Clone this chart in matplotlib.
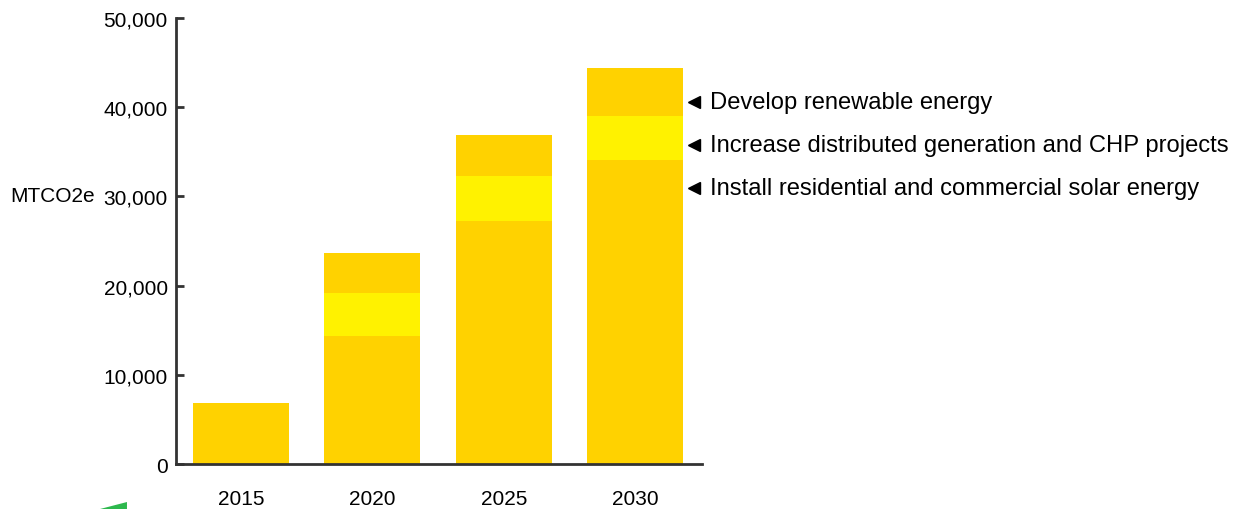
import numpy as np
import matplotlib.pyplot as plt
from matplotlib.patches import Polygon
from matplotlib.transforms import offset_copy

# -----------------------------
# Data (MTCO2e reductions)
# -----------------------------
years = ["2015", "2020", "2025", "2030"]
solar = [6800, 14300, 27300, 34100]      # residential / commercial solar
chp = [0, 4900, 5000, 4900]              # distributed generation and CHP
renewable = [0, 4500, 4600, 5400]        # develop renewable energy

labels = [
    "Develop renewable energy",
    "Increase distributed generation and CHP projects",
    "Install residential and commercial solar energy",
]
label_y = [40600, 35800, 31000]

orange = "#FFD200"
yellow = "#FFF200"
axis_col = "#333333"

plt.rcParams["font.family"] = ["Liberation Sans", "DejaVu Sans"]

fig = plt.figure(figsize=(12.46, 5.10), dpi=100)
ax = fig.add_axes([0.1413, 0.0882, 0.4221, 0.8745])

x = np.arange(len(years))
width = 0.73
base2 = np.array(solar) + np.array(chp)

ax.bar(x, solar, width, color=orange, linewidth=0)
ax.bar(x, chp, width, bottom=solar, color=yellow, linewidth=0)
ax.bar(x, renewable, width, bottom=base2, color=orange, linewidth=0)

ax.set_xlim(-0.495, 3.51)
ax.set_ylim(0, 50000)
ax.set_yticks(np.arange(0, 50001, 10000))
ax.set_yticklabels([f"{v:,}" for v in range(0, 50001, 10000)], fontsize=15)
ax.set_xticks(x)
ax.set_xticklabels(years, fontsize=15)
ax.tick_params(axis="x", length=0, pad=18)
ax.tick_params(axis="y", direction="in", length=6, width=2, color=axis_col, pad=6)

for side in ["top", "right"]:
    ax.spines[side].set_visible(False)
for side in ["left", "bottom"]:
    ax.spines[side].set_linewidth(2)
    ax.spines[side].set_color(axis_col)

# axis unit label sits to the left of the tick labels
fig.text(0.008, 1 - 197 / 510, "MTCO2e", fontsize=15, va="center", ha="left")

# labels for the stacked segments, to the right of the last bar
lx = x[-1] + width / 2 + 0.033
arrow_tr = offset_copy(ax.transData, fig=fig, x=7, y=0, units="dots")
text_tr = offset_copy(ax.transData, fig=fig, x=23, y=0, units="dots")
for lab, ly in zip(labels, label_y):
    ax.plot([lx], [ly], marker="<", ms=9, color="black", transform=arrow_tr,
            clip_on=False)
    ax.text(lx, ly, lab, fontsize=17.1, va="center", ha="left",
            transform=text_tr, clip_on=False)

# small green corner mark
fig.add_artist(Polygon([[0.0803, 0.0], [0.1019, 0.0137], [0.1019, 0.0]],
                       closed=True, transform=fig.transFigure,
                       color="#2db84d", linewidth=0))

fig.savefig("out.png", dpi=100)
